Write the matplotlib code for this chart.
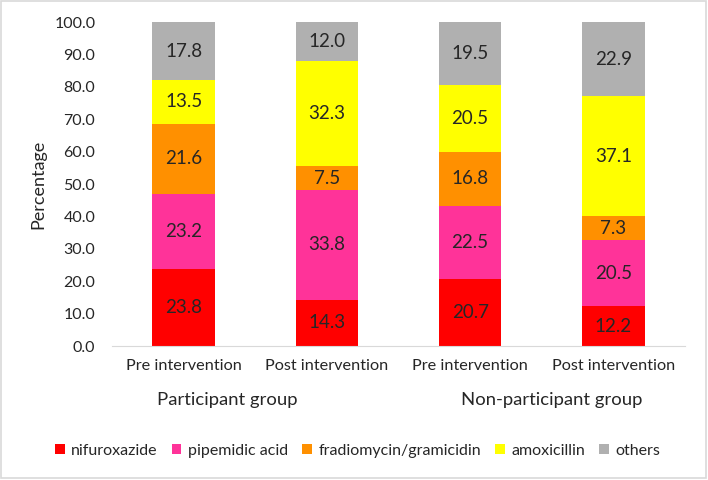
import matplotlib.pyplot as plt
import numpy as np
from matplotlib.patches import Rectangle

plt.rcParams["font.family"] = ["Lato", "DejaVu Sans"]

# Data
bars = ["Pre intervention", "Post intervention", "Pre intervention", "Post intervention"]
groups = ["Participant group", "Non-participant group"]
drugs = ["nifuroxazide", "pipemidic acid", "fradiomycin/gramicidin", "amoxicillin", "others"]
nifuroxazide = [23.8, 14.3, 20.7, 12.2]
pipemidic = [23.2, 33.8, 22.5, 20.5]
fradiomycin = [21.6, 7.5, 16.8, 7.3]
amoxicillin = [13.5, 32.3, 20.5, 37.1]
others = [17.8, 12.0, 19.5, 22.9]

colors = ["#FF0000", "#FF3399", "#FF9000", "#FFFF00", "#B0B0B0"]
series = [nifuroxazide, pipemidic, fradiomycin, amoxicillin, others]

fig = plt.figure(figsize=(7.08, 4.8), dpi=100)
ax = fig.add_axes([112 / 708, 134 / 480, 573 / 708, 324 / 480])

x = np.arange(len(bars))
bottom = np.zeros(len(bars))
for vals, col, name in zip(series, colors, drugs):
    vals = np.array(vals)
    ax.bar(x, vals, 0.435, bottom=bottom, color=col, label=name)
    for xi, b, v in zip(x, bottom, vals):
        ax.text(xi, b + v / 2, f"{v:.1f}", ha="center", va="center",
                fontsize=13.5, color="#262626")
    bottom += vals

ax.set_xlim(-0.5, len(bars) - 0.5)
ax.set_ylim(0, 100)
ax.set_yticks(np.arange(0, 101, 10))
ax.set_yticklabels([f"{v:.1f}" for v in np.arange(0, 101, 10)], fontsize=11.5, color="#262626")
ax.set_xticks(x)
ax.set_xticklabels(bars, fontsize=11.7, color="#262626")
ax.tick_params(axis="both", length=0)
ax.tick_params(axis="x", pad=9)
ax.tick_params(axis="y", pad=12)
for s in ["top", "right", "left"]:
    ax.spines[s].set_visible(False)
ax.spines["bottom"].set_color("#D9D9D9")
ax.set_ylabel("Percentage", fontsize=13, color="#262626")
ax.yaxis.set_label_coords(-66 / 573, 0.5)

# group labels
fig.text(227 / 708, 1 - 400 / 480, groups[0], ha="center", va="center", fontsize=13.3, color="#262626")
fig.text(552 / 708, 1 - 400 / 480, groups[1], ha="center", va="center", fontsize=13.3, color="#262626")

fig.legend(loc="center", bbox_to_anchor=(0.505, 1 - 451 / 480), ncol=5, frameon=False,
           fontsize=11.5, handlelength=0.6, handleheight=0.6, handletextpad=0.4,
           columnspacing=0.9, labelcolor="#262626")

fig.patches.append(Rectangle((0.002, 0.004), 0.995, 0.993, transform=fig.transFigure,
                             fill=False, edgecolor="#D9D9D9", linewidth=1.2))

plt.savefig("out.png", dpi=100)
plt.close()
